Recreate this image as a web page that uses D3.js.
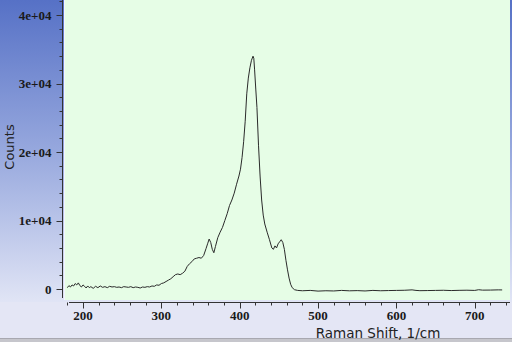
<!DOCTYPE html>
<html>
<head>
<meta charset="utf-8">
<script src="https://cdn.jsdelivr.net/npm/d3@7.9.0/dist/d3.min.js"></script>
<style>
  html, body { margin: 0; padding: 0; background: #fff; }
  svg { display: block; }
</style>
</head>
<body>
<svg width="512" height="342"></svg>
<script>
// Raman spectrum (shift in 1/cm, counts)
const shifts = [180, 182, 184, 186, 188, 190, 192, 194, 196, 198, 200, 202, 204, 206, 208, 210, 213, 216, 219, 222,
  225, 228, 231, 234, 237, 240, 243, 246, 249, 252, 255, 258, 261, 264, 267, 270, 273, 276, 279, 282,
  285, 288, 291, 294, 297, 300, 303, 306, 309, 312, 315, 318, 321, 324, 327, 330, 333, 336, 339, 342,
  345, 348, 351, 354, 357, 359, 361, 363, 365, 367, 369, 372, 375, 378, 381, 384, 387, 390, 393, 396,
  399, 401, 403, 405, 407, 409, 411, 413, 415, 417, 418, 419, 420.5, 422, 424, 426, 428, 430, 432, 435,
  438, 441, 443, 445, 447, 449, 451, 453, 455, 457, 459, 461, 463, 465, 467, 470, 474, 480, 490, 500,
  510, 520, 530, 540, 550, 560, 570, 580, 590, 600, 610, 620, 625, 630, 640, 650, 660, 670, 680, 690,
  700, 705, 710, 720, 730, 735];
const counts = [200, 500, 300, 600, 450, 800, 600, 900, 500, 300, 600, 400, 150, 450, 200, 350, 100, 400, 200, 450,
  250, 350, 200, 400, 300, 350, 250, 300, 200, 350, 300, 250, 350, 200, 300, 250, 150, 300, 250, 350,
  300, 450, 400, 600, 550, 800, 900, 1100, 1300, 1500, 1800, 2100, 2200, 2100, 2300, 2600, 3300, 3700, 4000, 4400,
  4500, 4600, 4500, 4900, 5900, 6600, 7300, 6800, 5800, 5300, 6200, 7500, 8300, 9000, 10000, 11000, 12200, 13000, 14000, 15300,
  16500, 17500, 19200, 21500, 24500, 28500, 30800, 32300, 33400, 34000, 33700, 32000, 29200, 26500, 21000, 16500, 13000, 10800, 9500, 8300,
  7200, 6000, 5800, 6300, 6000, 6600, 6900, 7200, 6800, 5800, 4200, 2800, 1600, 700, 200, -100, -200, -250, -200, -300,
  -250, -280, -200, -260, -230, -280, -200, -250, -220, -200, -180, -120, -200, -240, -220, -200, -180, -220, -190, -170,
  -200, -100, -160, -150, -120, -130];

const xTicks = [200, 300, 400, 500, 600, 700];
const yTicks = [0, 10000, 20000, 30000, 40000];
const yTickLabels = ["0", "1e+04", "2e+04", "3e+04", "4e+04"];

const W = 512, H = 342;
const plot = { left: 65, right: 510, top: 0, bottom: 300 };

const svg = d3.select("svg");

// background gradient of the frame
const defs = svg.append("defs");
const grad = defs.append("linearGradient")
  .attr("id", "frameGrad")
  .attr("x1", 0).attr("y1", 0).attr("x2", 0).attr("y2", 1);
grad.append("stop").attr("offset", "0%").attr("stop-color", "#5671c6");
grad.append("stop").attr("offset", "45%").attr("stop-color", "#98a9de");
grad.append("stop").attr("offset", "88%").attr("stop-color", "#e0e4f5");
grad.append("stop").attr("offset", "100%").attr("stop-color", "#e8e9f6");

svg.append("rect").attr("width", W).attr("height", H).attr("fill", "url(#frameGrad)");

// bottom strip + border
svg.append("rect").attr("x", 0).attr("y", 302).attr("width", W).attr("height", 36).attr("fill", "#e4e6f5");
svg.append("rect").attr("x", 0).attr("y", 338).attr("width", W).attr("height", 4).attr("fill", "#c6c6cc");
svg.append("line").attr("x1", 0).attr("x2", W).attr("y1", 338.5).attr("y2", 338.5).attr("stroke", "#a8a8b0");

// plot area
svg.append("rect")
  .attr("x", plot.left).attr("y", plot.top)
  .attr("width", plot.right - plot.left).attr("height", plot.bottom - plot.top)
  .attr("fill", "#e6fde6");
svg.append("line").attr("x1", plot.left - 0.5).attr("x2", plot.left - 0.5)
  .attr("y1", 0).attr("y2", plot.bottom).attr("stroke", "#f4f6ff");

const x = d3.scaleLinear().domain([177, 745]).range([plot.left, plot.right]);
const y = d3.scaleLinear().domain([-1600, 42200]).range([plot.bottom, plot.top]);

// y axis
const yAxisG = svg.append("g").attr("transform", "translate(62.5,0)");
yAxisG.append("line").attr("y1", 0).attr("y2", 298).attr("stroke", "#333");
const yMinor = d3.range(0, 42001, 2000).filter(v => v % 10000 !== 0);
yAxisG.selectAll(".ymin").data(yMinor).join("line")
  .attr("x1", -3).attr("x2", 0)
  .attr("y1", d => Math.round(y(d)) + 0.5).attr("y2", d => Math.round(y(d)) + 0.5)
  .attr("stroke", "#333");
yAxisG.selectAll(".ymaj").data(yTicks).join("line")
  .attr("x1", -6).attr("x2", 0)
  .attr("y1", d => Math.round(y(d)) + 0.5).attr("y2", d => Math.round(y(d)) + 0.5)
  .attr("stroke", "#333");
yAxisG.selectAll(".ylab").data(yTicks).join("text")
  .attr("x", -11).attr("y", d => y(d) + 4.5)
  .attr("text-anchor", "end")
  .attr("font-family", "Liberation Serif, serif")
  .attr("font-weight", "bold")
  .attr("font-size", 13)
  .attr("fill", "#1a1a1a")
  .text((d, i) => yTickLabels[i]);

// x axis
const xAxisG = svg.append("g").attr("transform", "translate(0,302.5)");
xAxisG.append("line").attr("x1", 69).attr("x2", plot.right).attr("stroke", "#333");
const xMinor = d3.range(180, 741, 20).filter(v => v % 100 !== 0);
xAxisG.selectAll(".xmin").data(xMinor).join("line")
  .attr("x1", d => Math.round(x(d)) + 0.5).attr("x2", d => Math.round(x(d)) + 0.5)
  .attr("y1", 0).attr("y2", 3).attr("stroke", "#333");
xAxisG.selectAll(".xmaj").data(xTicks).join("line")
  .attr("x1", d => Math.round(x(d)) + 0.5).attr("x2", d => Math.round(x(d)) + 0.5)
  .attr("y1", 0).attr("y2", 6).attr("stroke", "#333");
xAxisG.selectAll(".xlab").data(xTicks).join("text")
  .attr("x", d => x(d)).attr("y", 17.5)
  .attr("text-anchor", "middle")
  .attr("font-family", "Liberation Serif, serif")
  .attr("font-weight", "bold")
  .attr("font-size", 13)
  .attr("fill", "#1a1a1a")
  .text(d => d);

// axis titles
svg.append("text")
  .attr("transform", "translate(14,147) rotate(-90)")
  .attr("text-anchor", "middle")
  .attr("font-family", "DejaVu Sans, sans-serif")
  .attr("font-size", 13)
  .attr("fill", "#222")
  .text("Counts");
svg.append("text")
  .attr("x", 378).attr("y", 337.5)
  .attr("text-anchor", "middle")
  .attr("font-family", "DejaVu Sans, sans-serif")
  .attr("font-size", 13.5)
  .attr("fill", "#222")
  .text("Raman Shift, 1/cm");

// spectrum line
const data = shifts.map((s, i) => ({ s: s, c: counts[i] }));
const line = d3.line().x(d => x(d.s)).y(d => y(d.c));
svg.append("path")
  .datum(data)
  .attr("d", line)
  .attr("fill", "none")
  .attr("stroke", "#2a2a2a")
  .attr("stroke-width", 1);
</script>
</body>
</html>
